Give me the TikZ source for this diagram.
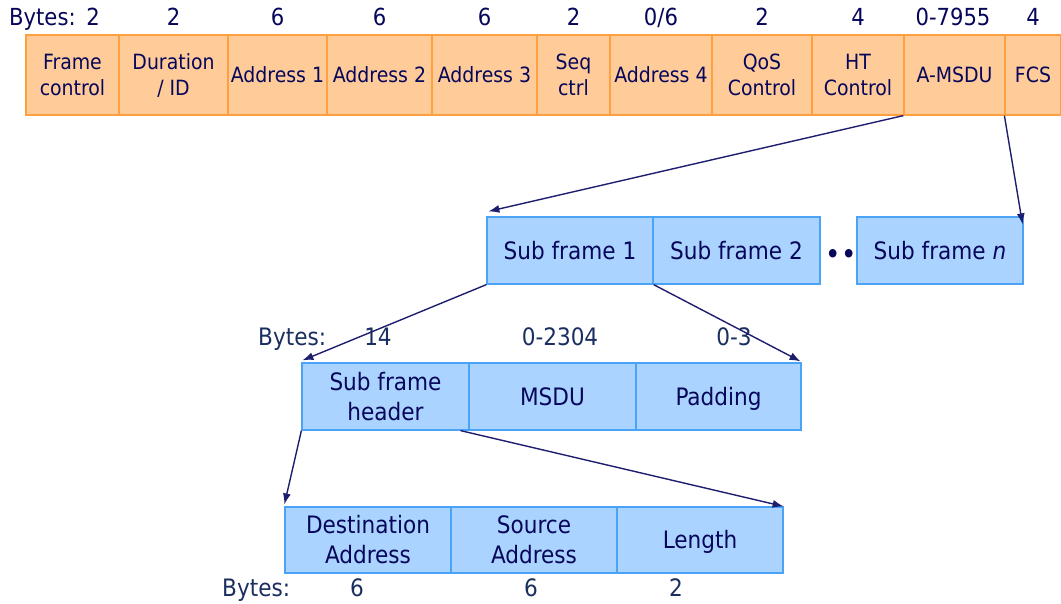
\documentclass[tikz,border=0pt]{standalone}
\usepackage{fontspec}
\setmainfont{DejaVu Sans Condensed}
\usetikzlibrary{arrows.meta,calc}
\definecolor{ofill}{HTML}{FFCC99}
\definecolor{oline}{HTML}{FFA040}
\definecolor{bfill}{HTML}{AAD4FF}
\definecolor{bline}{HTML}{4BA3F5}
\definecolor{ink}{HTML}{06065A}
\definecolor{bink}{HTML}{1A2E60}
\definecolor{arr}{HTML}{1E1E6E}
\begin{document}
\begin{tikzpicture}[x=1pt,y=-1pt,
 ocell/.style={draw=oline, fill=ofill, line width=1.2pt, minimum height=80pt, inner sep=0pt, align=center, text=ink, font=\fontsize{21}{26}\selectfont},
 bcell/.style={draw=bline, fill=bfill, line width=1.2pt, minimum height=67pt, inner sep=0pt, align=center, text=ink, font=\fontsize{24}{30}\selectfont},
 osingle/.style={text height=15.3pt, text depth=0pt},
 bsingle/.style={text height=17.5pt, text depth=0pt},
 toplbl/.style={text=ink, font=\fontsize{23.5}{26}\selectfont, inner sep=0pt, text height=17.2pt, text depth=0pt},
 lowlbl/.style={text=bink, font=\fontsize{24}{28}\selectfont, inner sep=0pt, text height=17.5pt, text depth=0pt},
 link/.style={draw=arr, line width=1.4pt, -{Latex[length=11pt,width=8pt]}}
]
\useasboundingbox (0,0) rectangle (1061,603);
% top row
\node[ocell, minimum width=93pt] (fc) at (72.5,75) {Frame\\control};
\node[ocell, minimum width=109pt] (dur) at (173.5,75) {Duration\\/ ID};
\node[ocell, osingle, minimum width=99pt] (a1) at (277.5,75) {Address 1};
\node[ocell, osingle, minimum width=105pt] (a2) at (379.5,75) {Address 2};
\node[ocell, osingle, minimum width=105pt] (a3) at (484.5,75) {Address 3};
\node[ocell, minimum width=73pt] (seq) at (573.5,75) {Seq\\ctrl};
\node[ocell, osingle, minimum width=102pt] (a4) at (661,75) {Address 4};
\node[ocell, minimum width=100pt] (qos) at (762,75) {QoS\\Control};
\node[ocell, minimum width=92pt] (ht) at (858,75) {HT\\Control};
\node[ocell, osingle, minimum width=101pt] (amsdu) at (954.5,75) {A-MSDU};
\node[ocell, osingle, minimum width=56pt] (fcs) at (1033,75) {FCS};
% top byte labels
\node[toplbl, anchor=west] (bt) at (9,17) {Bytes:};
\node[toplbl] (b1) at (93,17) {2};
\node[toplbl] (b2) at (173.5,17) {2};
\node[toplbl] (b3) at (277.5,17) {6};
\node[toplbl] (b4) at (379.5,17) {6};
\node[toplbl] (b5) at (484.5,17) {6};
\node[toplbl] (b6) at (573.5,17) {2};
\node[toplbl] (b7) at (661,17) {0/6};
\node[toplbl] (b8) at (762,17) {2};
\node[toplbl] (b9) at (858,17) {4};
\node[toplbl] (b10) at (953,17) {0-7955};
\node[toplbl] (b11) at (1033,17) {4};
% sub frames
\node[bcell, bsingle, minimum width=166pt] (sf1) at (570,250.5) {Sub frame 1};
\node[bcell, bsingle, minimum width=167pt] (sf2) at (736.5,250.5) {Sub frame 2};
\node[text=ink, font=\fontsize{29}{30}\selectfont, inner sep=0pt] (dots) at (841,257) {••};
\node[bcell, bsingle, minimum width=166pt] (sfn) at (940,250.5) {Sub frame \textit{n}};
% subframe header row
\node[lowlbl, anchor=west] (bl1) at (258,337) {Bytes:};
\node[lowlbl] (bl2) at (378,337) {14};
\node[lowlbl] (bl3) at (560,337) {0-2304};
\node[lowlbl] (bl4) at (734,337) {0-3};
\node[bcell, minimum width=167pt] (hdr) at (385.5,396.5) {Sub frame\\header};
\node[bcell, bsingle, minimum width=167pt] (msdu) at (552.5,396.5) {MSDU};
\node[bcell, bsingle, minimum width=165pt] (pad) at (718.5,396.5) {Padding};
% bottom row
\node[bcell, minimum width=166pt, minimum height=66pt] (dst) at (368,540) {Destination\\Address};
\node[bcell, minimum width=166pt, minimum height=66pt] (src) at (534,540) {Source\\Address};
\node[bcell, bsingle, minimum width=166pt, minimum height=66pt] (len) at (700,540) {Length};
\node[lowlbl, anchor=west] (bb1) at (222,588) {Bytes:};
\node[lowlbl] (bb2) at (357,588) {6};
\node[lowlbl] (bb3) at (531,588) {6};
\node[lowlbl] (bb4) at (676,588) {2};
% connectors
\draw[link] (amsdu.south west) -- ([shift={(2,-5)}]sf1.north west);
\draw[link] (fcs.south west) -- ([shift={(-1,8)}]sfn.north east);
\draw[link] (sf1.south west) -- ([shift={(1,-2)}]hdr.north west);
\draw[link] (sf1.south east) -- ([shift={(-1,-1)}]pad.north east);
\draw[link] (hdr.south west) -- ([shift={(0,-2)}]dst.north west);
\coordinate (hs) at ($(hdr.south west)!0.946!(hdr.south east)$);
\draw[link] (hs) -- (len.north east);
\end{tikzpicture}
\end{document}
